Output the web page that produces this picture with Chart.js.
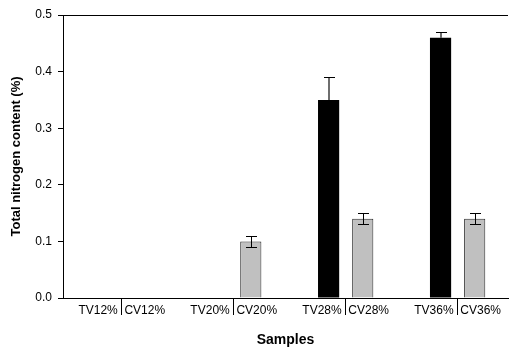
<!DOCTYPE html>
<html>
<head>
<meta charset="utf-8">
<script src="https://cdn.jsdelivr.net/npm/chart.js@4"></script>
<style>
    html, body { margin: 0; padding: 0; background: #fff; }
    canvas { display: block; }
</style>
</head>
<body>
<canvas id="nitrogenChart" width="509" height="352"></canvas>
<script>
// Concentration groups (x position of each TV/CV pair)
const groups = [12, 20, 28, 36];
const tvLabels = ['TV12%', 'TV20%', 'TV28%', 'TV36%'];
const cvLabels = ['CV12%', 'CV20%', 'CV28%', 'CV36%'];

// Total nitrogen content (%) and error
const tvValues = [0, 0, 0.35, 0.46];
const tvErrors = [0, 0, 0.04, 0.01];
const cvValues = [0, 0.10, 0.14, 0.14];
const cvErrors = [0, 0.01, 0.01, 0.01];

const yTicks = [0, 0.1, 0.2, 0.3, 0.4, 0.5];

const FONT = "'Liberation Sans', Arial, Helvetica, sans-serif";

// Draws the error bars from the errors stored on each dataset
const errorBarPlugin = {
    id: 'errorBars',
    afterDatasetsDraw(chart) {
        const ctx = chart.ctx;
        const yScale = chart.scales.y;
        chart.data.datasets.forEach((ds, di) => {
            const meta = chart.getDatasetMeta(di);
            meta.data.forEach((bar, i) => {
                const err = ds.errors[i];
                if (!err) return;
                const v = ds.data[i].y;
                const yTop = Math.round(yScale.getPixelForValue(v + err)) + 0.5;
                const yBot = Math.round(yScale.getPixelForValue(v - err)) + 0.5;
                const yStemEnd = ds.errorLower ? yBot : Math.round(bar.y);
                const x = Math.round(bar.x);
                const sx = x + (ds.errorStemWidth === 1 ? 0.5 : 0);
                ctx.save();
                // stem
                ctx.strokeStyle = ds.errorStemColor;
                ctx.lineWidth = ds.errorStemWidth;
                ctx.beginPath();
                ctx.moveTo(sx, yTop);
                ctx.lineTo(sx, yStemEnd);
                ctx.stroke();
                // caps
                ctx.strokeStyle = '#000';
                ctx.lineWidth = 1;
                ctx.beginPath();
                ctx.moveTo(x - 5, yTop);
                ctx.lineTo(x + 6, yTop);
                if (ds.errorLower) {
                    ctx.moveTo(x - 5, yBot);
                    ctx.lineTo(x + 6, yBot);
                }
                ctx.stroke();
                ctx.restore();
            });
        });
    }
};

// Top frame line of the plot area
const topFramePlugin = {
    id: 'topFrame',
    afterDraw(chart) {
        const { ctx, chartArea } = chart;
        ctx.save();
        ctx.strokeStyle = '#000';
        ctx.lineWidth = 1;
        ctx.beginPath();
        ctx.moveTo(chartArea.left, Math.round(chartArea.top) + 0.5);
        ctx.lineTo(chartArea.right, Math.round(chartArea.top) + 0.5);
        ctx.stroke();
        ctx.restore();
    }
};

const ctx = document.getElementById('nitrogenChart').getContext('2d');

new Chart(ctx, {
    type: 'bar',
    data: {
        datasets: [
            {
                label: 'TV',
                data: groups.map((g, i) => ({ x: g, y: tvValues[i] })),
                errors: tvErrors,
                backgroundColor: '#000',
                borderColor: '#000',
                borderWidth: 0,
                errorStemColor: '#6e6e6e',
                errorStemWidth: 2,
                errorLower: false,
                categoryPercentage: 0.61,
                barPercentage: 0.62
            },
            {
                label: 'CV',
                data: groups.map((g, i) => ({ x: g, y: cvValues[i] })),
                errors: cvErrors,
                backgroundColor: '#c0c0c0',
                borderColor: '#2a2a2a',
                borderWidth: 1,
                borderSkipped: 'bottom',
                errorStemColor: '#000',
                errorStemWidth: 1,
                errorLower: true,
                categoryPercentage: 0.61,
                barPercentage: 0.62
            }
        ]
    },
    options: {
        responsive: false,
        animation: false,
        devicePixelRatio: 1,
        layout: {
            padding: { top: 15, right: 1, bottom: 0, left: 0 }
        },
        plugins: {
            legend: { display: false },
            tooltip: { enabled: false }
        },
        scales: {
            x: {
                type: 'linear',
                min: 7.8,
                max: 39.6,
                offset: false,
                afterFit: (scale) => { scale.height = 54; },
                afterBuildTicks: (scale) => {
                    scale.ticks = groups.map(g => ({ value: g }));
                },
                border: { display: true, color: '#000', width: 1 },
                grid: {
                    offset: false,
                    drawOnChartArea: false,
                    drawTicks: true,
                    tickLength: 17,
                    tickColor: '#000'
                },
                ticks: {
                    padding: -12,
                    color: '#000',
                    maxRotation: 0,
                    autoSkip: false,
                    font: { family: FONT, size: 12 },
                    callback: (value) => {
                        const i = groups.indexOf(value);
                        return i < 0 ? '' : tvLabels[i] + '  ' + cvLabels[i];
                    }
                },
                title: {
                    display: true,
                    text: 'Samples',
                    color: '#000',
                    font: { family: FONT, size: 14, weight: 'bold' },
                    padding: { top: 0, bottom: 3 }
                }
            },
            y: {
                min: 0,
                max: 0.5,
                afterFit: (scale) => { scale.width = 63; },
                afterBuildTicks: (scale) => {
                    scale.ticks = yTicks.map(v => ({ value: v }));
                },
                border: { display: true, color: '#000', width: 1 },
                grid: {
                    drawOnChartArea: false,
                    drawTicks: true,
                    tickLength: 5,
                    tickColor: '#000'
                },
                ticks: {
                    padding: 6,
                    color: '#000',
                    font: { family: FONT, size: 12 },
                    callback: (value) => value.toFixed(1)
                },
                title: {
                    display: true,
                    text: 'Total nitrogen content (%)',
                    color: '#000',
                    font: { family: FONT, size: 13, weight: 'bold' },
                    padding: { top: 9, bottom: 0 }
                }
            }
        }
    },
    plugins: [errorBarPlugin, topFramePlugin]
});
</script>
</body>
</html>
